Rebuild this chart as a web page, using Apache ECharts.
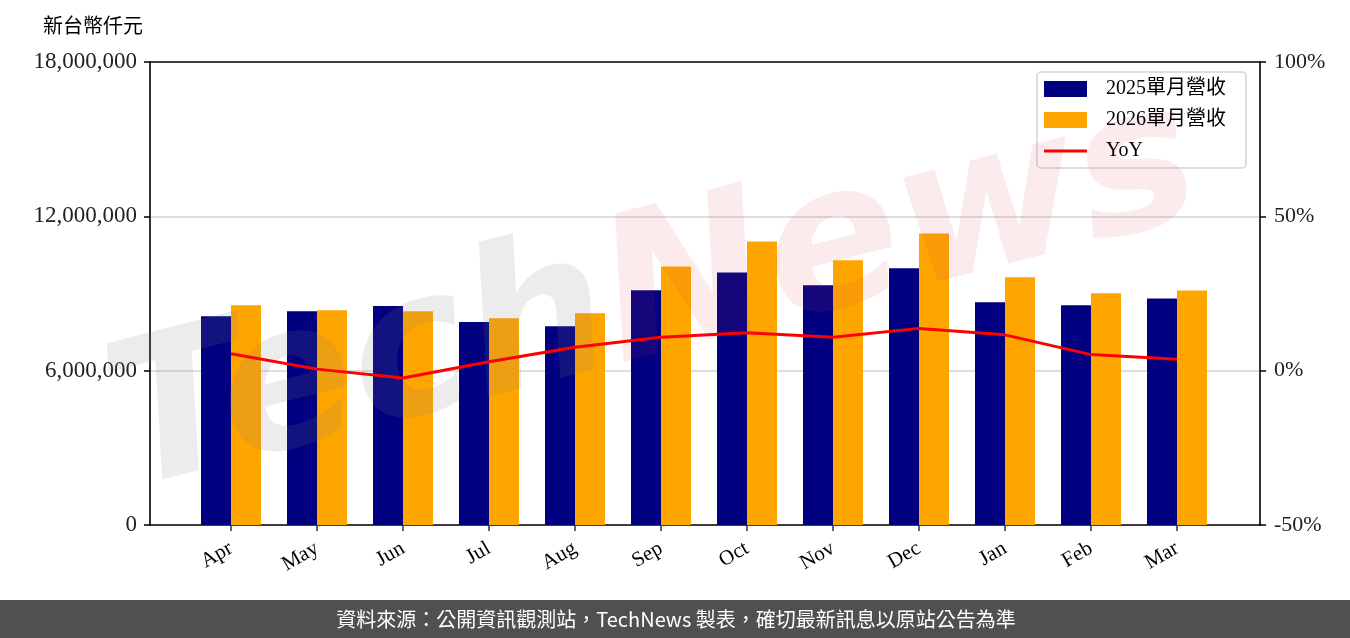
<!DOCTYPE html>
<html>
<head>
<meta charset="utf-8">
<script src="https://cdn.jsdelivr.net/npm/echarts@6/dist/echarts.min.js"></script>
<style>
  html, body { margin: 0; padding: 0; background: #fff; }
  #chart { width: 1350px; height: 638px; }
</style>
</head>
<body>
<div id="chart"></div>
<script>
// 月份 (會計年度 Apr ~ Mar)
const months = ['Apr', 'May', 'Jun', 'Jul', 'Aug', 'Sep', 'Oct', 'Nov', 'Dec', 'Jan', 'Feb', 'Mar'];
// 單月營收 (新台幣仟元)
const rev2025 = [8120000, 8310000, 8510000, 7890000, 7730000, 9130000, 9820000, 9320000, 9980000, 8660000, 8540000, 8810000];
const rev2026 = [8540000, 8350000, 8310000, 8040000, 8230000, 10050000, 11020000, 10290000, 11330000, 9630000, 9010000, 9120000];
// 年增率 (%)
const yoy = [5.5, 0.5, -2.4, 2.9, 7.6, 10.8, 12.3, 10.8, 13.7, 11.6, 5.2, 3.7];

const serif = "'Liberation Serif', 'Noto Sans CJK TC', serif";
const cjk = "'Noto Sans CJK TC', sans-serif";
const frameLine = { show: true, onZero: false, lineStyle: { color: '#000', width: 1.6 } };
const noMarks = { axisTick: { show: false }, axisLabel: { show: false }, splitLine: { show: false } };

const chart = echarts.init(document.getElementById('chart'));

const option = {
  animation: false,
  backgroundColor: '#fff',
  grid: [
    // 資料區 (類別留白同 matplotlib)
    { left: 188, right: 130, top: 62, bottom: 113 },
    // 外框
    { left: 150, right: 90, top: 62, bottom: 113 }
  ],
  legend: {
    orient: 'vertical',
    left: 1037,
    top: 72,
    padding: [7, 20, 7, 7],
    itemWidth: 43,
    itemHeight: 16,
    itemGap: 11,
    borderColor: '#d4d4d4',
    borderWidth: 1.5,
    borderRadius: 4,
    backgroundColor: 'rgba(255,255,255,0.8)',
    textStyle: { fontSize: 20, color: '#000', fontFamily: serif, padding: [0, 0, 0, 14] },
    data: [
      { name: '2025單月營收', icon: 'rect' },
      { name: '2026單月營收', icon: 'rect' },
      { name: 'YoY', icon: 'path://M0,0L0,0M0,6.5L43,6.5L43,9.5L0,9.5ZM43,16L43,16' }
    ]
  },
  xAxis: [
    {
      type: 'category', gridIndex: 0, data: months, boundaryGap: true,
      axisLine: { show: false },
      axisTick: { show: true, alignWithLabel: true, length: 6, lineStyle: { color: '#333', width: 1.5 } },
      axisLabel: { rotate: 30, fontSize: 21, color: '#000', fontFamily: serif, margin: 22 }
    },
    Object.assign({ type: 'value', gridIndex: 1, position: 'bottom', min: 0, max: 1, axisLine: frameLine }, noMarks),
    Object.assign({ type: 'value', gridIndex: 1, position: 'top', min: 0, max: 1, axisLine: frameLine }, noMarks)
  ],
  yAxis: [
    { type: 'value', gridIndex: 0, min: 0, max: 18000000, interval: 6000000, show: false },
    { type: 'value', gridIndex: 0, min: -50, max: 100, interval: 50, show: false },
    {
      type: 'value', gridIndex: 1, position: 'left', min: 0, max: 18000000, interval: 6000000,
      axisLine: frameLine,
      axisTick: { show: true, length: 6, lineStyle: { color: '#000', width: 1.5 } },
      axisLabel: { fontSize: 23, color: '#222', fontFamily: serif, margin: 13,
        formatter: v => v.toLocaleString('en-US') },
      splitLine: { show: true, showMinLine: false, showMaxLine: false, lineStyle: { color: '#d3d3d3', width: 1.6 } }
    },
    {
      type: 'value', gridIndex: 1, position: 'right', min: -50, max: 100, interval: 50,
      axisLine: frameLine,
      axisTick: { show: true, length: 6, lineStyle: { color: '#000', width: 1.5 } },
      axisLabel: { fontSize: 22, color: '#222', fontFamily: serif, margin: 14, formatter: '{value}%' },
      splitLine: { show: false }
    }
  ],
  series: [
    {
      name: '2025單月營收', type: 'bar', xAxisIndex: 0, yAxisIndex: 0,
      data: rev2025, barWidth: 30, barGap: '0%', itemStyle: { color: '#000080' }, z: 2
    },
    {
      name: '2026單月營收', type: 'bar', xAxisIndex: 0, yAxisIndex: 0,
      data: rev2026, barWidth: 30, barGap: '0%', itemStyle: { color: '#ffa500' }, z: 2
    },
    {
      name: 'YoY', type: 'line', xAxisIndex: 0, yAxisIndex: 1,
      data: yoy, symbol: 'none', lineStyle: { color: '#ff0000', width: 3 }, itemStyle: { color: '#ff0000' }, z: 6
    }
  ],
  graphic: [
    // 浮水印
    {
      type: 'text', z: 4, x: 655, y: 300, rotation: 0.25,
      style: {
        text: '{a|Tech}{b|News}',
        align: 'center', verticalAlign: 'middle',
        rich: {
          a: { fontSize: 200, fontStyle: 'italic', fontWeight: 'bold', fontFamily: 'DejaVu Sans', fill: 'rgba(130,130,130,0.15)' },
          b: { fontSize: 200, fontStyle: 'italic', fontWeight: 'bold', fontFamily: 'DejaVu Sans', fill: 'rgba(220,60,80,0.1)' }
        }
      }
    },
    {
      type: 'text', left: 43, top: 15, z: 10,
      style: { text: '新台幣仟元', fontSize: 20, fill: '#000', fontFamily: cjk }
    },
    {
      type: 'rect', left: 0, top: 600, z: 10,
      shape: { width: 1350, height: 38 }, style: { fill: '#505050' }
    },
    {
      type: 'text', x: 676, y: 619, z: 11,
      style: {
        text: '資料來源：公開資訊觀測站，TechNews 製表，確切最新訊息以原站公告為準',
        fontSize: 20, fill: '#fff', fontFamily: cjk, align: 'center', verticalAlign: 'middle'
      }
    }
  ]
};

chart.setOption(option);
</script>
</body>
</html>
